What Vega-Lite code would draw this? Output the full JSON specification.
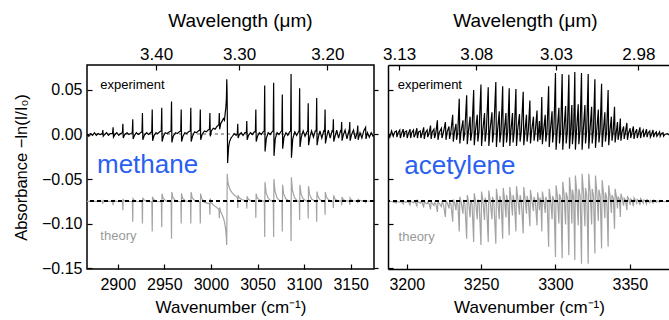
{
  "$schema": "https://vega.github.io/schema/vega-lite/v6.json",
  "background": "white",
  "padding": {"left": 12, "top": 10, "right": 0, "bottom": 0},
  "spacing": 2,
  "config": {
    "font": "Liberation Sans",
    "view": {"stroke": null},
    "axis": {"labelFont": "Liberation Sans", "titleFont": "Liberation Sans", "labelColor": "#000", "titleColor": "#000", "domainColor": "#000", "domainWidth": 1.5, "tickColor": "#000", "tickWidth": 1.2, "grid": false, "labelFontSize": 16, "titleFontSize": 17, "titleFontWeight": "normal", "labelFlush": false, "labelOverlap": false}
  },
  "datasets": {
    "me": [
      {"x":2867,"y":0},{"x":2869,"y":-0.002},{"x":2871,"y":0.001},{"x":2873,"y":-0.001},{"x":2875,"y":0.002},{"x":2877,"y":-0.001},{"x":2879,"y":0.001},{"x":2881,"y":0},{"x":2883.5,"y":0.001},{"x":2884,"y":0.005},{"x":2884.4,"y":-0.002},{"x":2886,"y":0},{"x":2888,"y":0.002},{"x":2890,"y":-0.001},{"x":2892,"y":0.001},{"x":2894.4,"y":0.001},{"x":2895,"y":0.008},{"x":2895.4,"y":-0.003},{"x":2897,"y":0},{"x":2899,"y":0.002},{"x":2901,"y":-0.001},{"x":2903,"y":0.001},{"x":2905,"y":0.002},{"x":2905.5,"y":0.012},{"x":2905.9,"y":-0.004},{"x":2907.5,"y":0},{"x":2910,"y":0.002},{"x":2912,"y":0},{"x":2914,"y":0.001},{"x":2915.6,"y":0.002},{"x":2916.1,"y":0.017},{"x":2916.5,"y":-0.005},{"x":2918,"y":-0.001},{"x":2920,"y":0.002},{"x":2922,"y":0},{"x":2924.5,"y":0.002},{"x":2926,"y":0.003},{"x":2926.5,"y":0.024},{"x":2926.9,"y":-0.006},{"x":2928.5,"y":-0.001},{"x":2931,"y":0.002},{"x":2933,"y":0},{"x":2935,"y":0.002},{"x":2936.5,"y":0.003},{"x":2937,"y":0.028},{"x":2937.4,"y":-0.007},{"x":2939,"y":-0.001},{"x":2941,"y":0.002},{"x":2943,"y":0.001},{"x":2945,"y":0.003},{"x":2946.7,"y":0.004},{"x":2947.2,"y":0.03},{"x":2947.6,"y":-0.008},{"x":2949,"y":-0.002},{"x":2951,"y":0.002},{"x":2953,"y":0.001},{"x":2955.5,"y":0.003},{"x":2957.2,"y":0.004},{"x":2957.7,"y":0.037},{"x":2958.1,"y":-0.009},{"x":2959.5,"y":-0.002},{"x":2962,"y":0.002},{"x":2964,"y":0.001},{"x":2966,"y":0.003},{"x":2967.6,"y":0.004},{"x":2968.1,"y":0.028},{"x":2968.5,"y":-0.008},{"x":2970,"y":-0.002},{"x":2972,"y":0.002},{"x":2974,"y":0.001},{"x":2976,"y":0.003},{"x":2977.9,"y":0.004},{"x":2978.4,"y":0.03},{"x":2978.8,"y":-0.008},{"x":2980.2,"y":-0.002},{"x":2982.5,"y":0.003},{"x":2984.5,"y":0.002},{"x":2986.5,"y":0.004},{"x":2988.1,"y":0.005},{"x":2988.6,"y":0.028},{"x":2989,"y":-0.006},{"x":2990.5,"y":0},{"x":2993,"y":0.004},{"x":2995,"y":0.003},{"x":2997,"y":0.005},{"x":2998.4,"y":0.006},{"x":2998.9,"y":0.024},{"x":2999.3,"y":-0.002},{"x":3000.5,"y":0.004},{"x":3002.5,"y":0.007},{"x":3004.5,"y":0.006},{"x":3006.5,"y":0.009},{"x":3008.5,"y":0.011},{"x":3009,"y":0.024},{"x":3009.4,"y":0.006},{"x":3010.5,"y":0.012},{"x":3012,"y":0.015},{"x":3013.5,"y":0.018},{"x":3014.5,"y":0.016},{"x":3015.3,"y":0.024},{"x":3016,"y":0.03},{"x":3016.6,"y":0.04},{"x":3017,"y":0.062},{"x":3017.3,"y":0.05},{"x":3017.6,"y":0.02},{"x":3017.9,"y":-0.032},{"x":3018.3,"y":-0.025},{"x":3019,"y":-0.014},{"x":3020,"y":-0.008},{"x":3021.5,"y":-0.004},{"x":3023,"y":-0.002},{"x":3025,"y":0.001},{"x":3027,"y":-0.001},{"x":3028.3,"y":0.001},{"x":3028.8,"y":0.012},{"x":3029.2,"y":-0.004},{"x":3030.5,"y":0},{"x":3032.5,"y":0.002},{"x":3034.5,"y":-0.001},{"x":3036.5,"y":0.002},{"x":3038,"y":0.002},{"x":3038.5,"y":0.015},{"x":3038.9,"y":-0.006},{"x":3040.3,"y":-0.001},{"x":3042.5,"y":0.002},{"x":3044.5,"y":0},{"x":3046.5,"y":0.003},{"x":3047.7,"y":0.003},{"x":3048.2,"y":0.028},{"x":3048.6,"y":-0.008},{"x":3050,"y":-0.002},{"x":3052,"y":0.002},{"x":3054,"y":0},{"x":3056,"y":0.003},{"x":3057.2,"y":0.004},{"x":3057.7,"y":0.055},{"x":3058.1,"y":-0.019},{"x":3059.5,"y":-0.004},{"x":3061.5,"y":0.002},{"x":3063.5,"y":0},{"x":3065.5,"y":0.003},{"x":3066.8,"y":0.004},{"x":3067.3,"y":0.058},{"x":3067.7,"y":-0.024},{"x":3069,"y":-0.005},{"x":3071,"y":0.002},{"x":3073,"y":0},{"x":3075,"y":0.003},{"x":3076.1,"y":0.004},{"x":3076.6,"y":0.045},{"x":3077,"y":-0.016},{"x":3078.4,"y":-0.003},{"x":3080.5,"y":0.002},{"x":3082.5,"y":-0.001},{"x":3084.5,"y":0.003},{"x":3085.5,"y":0.004},{"x":3086,"y":0.068},{"x":3086.4,"y":-0.026},{"x":3087.8,"y":-0.005},{"x":3090,"y":0.003},{"x":3092,"y":-0.001},{"x":3094,"y":0.003},{"x":3094.7,"y":0.004},{"x":3095.2,"y":0.052},{"x":3095.6,"y":-0.014},{"x":3097,"y":-0.003},{"x":3099,"y":0.004},{"x":3101,"y":-0.002},{"x":3103,"y":0.003},{"x":3103.9,"y":0.004},{"x":3104.4,"y":0.035},{"x":3104.8,"y":-0.012},{"x":3106.2,"y":-0.003},{"x":3108,"y":0.004},{"x":3110,"y":-0.003},{"x":3112,"y":0.004},{"x":3113,"y":0.004},{"x":3113.5,"y":0.041},{"x":3113.9,"y":-0.012},{"x":3115.3,"y":-0.003},{"x":3117,"y":0.004},{"x":3119,"y":-0.004},{"x":3121,"y":0.004},{"x":3122,"y":0.003},{"x":3122.5,"y":0.028},{"x":3122.9,"y":-0.01},{"x":3124.3,"y":-0.002},{"x":3126,"y":0.005},{"x":3128,"y":-0.004},{"x":3130,"y":0.004},{"x":3130.9,"y":0.003},{"x":3131.4,"y":0.017},{"x":3131.8,"y":-0.008},{"x":3133.2,"y":-0.002},{"x":3135,"y":0.005},{"x":3137,"y":-0.004},{"x":3139,"y":0.004},{"x":3139.8,"y":0.003},{"x":3140.3,"y":0.014},{"x":3140.7,"y":-0.007},{"x":3142,"y":-0.001},{"x":3144,"y":0.005},{"x":3146,"y":-0.005},{"x":3148,"y":0.004},{"x":3148.5,"y":0.003},{"x":3149,"y":0.014},{"x":3149.4,"y":-0.007},{"x":3151,"y":0},{"x":3153,"y":0.005},{"x":3155,"y":-0.005},{"x":3157,"y":0.003},{"x":3157.6,"y":0.01},{"x":3158,"y":-0.006},{"x":3160,"y":0.002},{"x":3162,"y":-0.004},{"x":3164,"y":0.004},{"x":3166,"y":0.008},{"x":3166.4,"y":-0.005},{"x":3168,"y":0.002},{"x":3170,"y":-0.003},{"x":3172,"y":0.002},{"x":3174,"y":-0.002},{"x":3175,"y":0}
    ],
    "mt": [
      {"x":2867,"y":-0.075},{"x":2880,"y":-0.075},{"x":2883.6,"y":-0.075},{"x":2884,"y":-0.078},{"x":2884.3,"y":-0.074},{"x":2885.5,"y":-0.0746},{"x":2888,"y":-0.075},{"x":2894.6,"y":-0.075},{"x":2895,"y":-0.0795},{"x":2895.3,"y":-0.074},{"x":2896.5,"y":-0.0746},{"x":2899,"y":-0.075},{"x":2905.1,"y":-0.0752},{"x":2905.5,"y":-0.085},{"x":2905.8,"y":-0.073},{"x":2907,"y":-0.0742},{"x":2910,"y":-0.075},{"x":2915.7,"y":-0.0752},{"x":2916.1,"y":-0.098},{"x":2916.4,"y":-0.072},{"x":2917.6,"y":-0.0738},{"x":2920.5,"y":-0.075},{"x":2926.1,"y":-0.0755},{"x":2926.5,"y":-0.1},{"x":2926.8,"y":-0.071},{"x":2928,"y":-0.0734},{"x":2931,"y":-0.075},{"x":2936.6,"y":-0.0755},{"x":2937,"y":-0.109},{"x":2937.3,"y":-0.07},{"x":2938.5,"y":-0.073},{"x":2941.5,"y":-0.075},{"x":2946.8,"y":-0.0755},{"x":2947.2,"y":-0.104},{"x":2947.5,"y":-0.0665},{"x":2948.7,"y":-0.0716},{"x":2952,"y":-0.0748},{"x":2957.3,"y":-0.0755},{"x":2957.7,"y":-0.117},{"x":2958,"y":-0.0646},{"x":2959.2,"y":-0.071},{"x":2962.5,"y":-0.0748},{"x":2967.7,"y":-0.0755},{"x":2968.1,"y":-0.1},{"x":2968.4,"y":-0.066},{"x":2969.6,"y":-0.0715},{"x":2973,"y":-0.0748},{"x":2978,"y":-0.0755},{"x":2978.4,"y":-0.1},{"x":2978.7,"y":-0.0646},{"x":2979.9,"y":-0.071},{"x":2983,"y":-0.0748},{"x":2988.2,"y":-0.0758},{"x":2988.6,"y":-0.1},{"x":2988.9,"y":-0.0665},{"x":2990.1,"y":-0.0716},{"x":2993,"y":-0.0762},{"x":2996,"y":-0.077},{"x":2998.5,"y":-0.078},{"x":2998.9,"y":-0.09},{"x":2999.2,"y":-0.072},{"x":3000.4,"y":-0.0765},{"x":3002.5,"y":-0.079},{"x":3005,"y":-0.081},{"x":3007.5,"y":-0.083},{"x":3008.7,"y":-0.084},{"x":3009,"y":-0.094},{"x":3009.3,"y":-0.082},{"x":3010.5,"y":-0.087},{"x":3012,"y":-0.09},{"x":3013.5,"y":-0.094},{"x":3014.5,"y":-0.098},{"x":3015.5,"y":-0.104},{"x":3016.3,"y":-0.112},{"x":3016.9,"y":-0.124},{"x":3017.2,"y":-0.09},{"x":3017.5,"y":-0.044},{"x":3018,"y":-0.052},{"x":3019,"y":-0.057},{"x":3020.5,"y":-0.062},{"x":3022.5,"y":-0.065},{"x":3025,"y":-0.068},{"x":3027.5,"y":-0.07},{"x":3028.5,"y":-0.071},{"x":3028.8,"y":-0.0825},{"x":3029.1,"y":-0.0683},{"x":3030.3,"y":-0.071},{"x":3033,"y":-0.073},{"x":3038.1,"y":-0.0745},{"x":3038.5,"y":-0.0832},{"x":3038.8,"y":-0.0694},{"x":3040,"y":-0.0725},{"x":3043,"y":-0.0745},{"x":3047.8,"y":-0.075},{"x":3048.2,"y":-0.0936},{"x":3048.5,"y":-0.0665},{"x":3049.7,"y":-0.0712},{"x":3052.5,"y":-0.0737},{"x":3057.3,"y":-0.075},{"x":3057.7,"y":-0.115},{"x":3058,"y":-0.0535},{"x":3059.2,"y":-0.0653},{"x":3061.5,"y":-0.0718},{"x":3064.5,"y":-0.0745},{"x":3066.9,"y":-0.075},{"x":3067.3,"y":-0.115},{"x":3067.6,"y":-0.05},{"x":3068.8,"y":-0.0638},{"x":3071,"y":-0.0712},{"x":3074,"y":-0.0745},{"x":3076.2,"y":-0.075},{"x":3076.6,"y":-0.109},{"x":3076.9,"y":-0.0565},{"x":3078.1,"y":-0.0667},{"x":3080.3,"y":-0.0722},{"x":3083.5,"y":-0.0745},{"x":3085.6,"y":-0.075},{"x":3086,"y":-0.1197},{"x":3086.3,"y":-0.048},{"x":3087.5,"y":-0.0629},{"x":3089.7,"y":-0.071},{"x":3092.5,"y":-0.0745},{"x":3094.8,"y":-0.075},{"x":3095.2,"y":-0.096},{"x":3095.5,"y":-0.0565},{"x":3096.7,"y":-0.0667},{"x":3098.9,"y":-0.0722},{"x":3102,"y":-0.0745},{"x":3104,"y":-0.075},{"x":3104.4,"y":-0.0944},{"x":3104.7,"y":-0.058},{"x":3105.9,"y":-0.0673},{"x":3108.1,"y":-0.0725},{"x":3111,"y":-0.0745},{"x":3113.1,"y":-0.075},{"x":3113.5,"y":-0.098},{"x":3113.8,"y":-0.064},{"x":3115,"y":-0.07},{"x":3117.2,"y":-0.0734},{"x":3120,"y":-0.0748},{"x":3122.1,"y":-0.075},{"x":3122.5,"y":-0.09},{"x":3122.8,"y":-0.0646},{"x":3124,"y":-0.0703},{"x":3126.2,"y":-0.0734},{"x":3129,"y":-0.0748},{"x":3131,"y":-0.075},{"x":3131.4,"y":-0.0825},{"x":3131.7,"y":-0.0683},{"x":3132.9,"y":-0.072},{"x":3135.1,"y":-0.074},{"x":3139.9,"y":-0.075},{"x":3140.3,"y":-0.0795},{"x":3140.6,"y":-0.0702},{"x":3141.8,"y":-0.0728},{"x":3144,"y":-0.0743},{"x":3148.6,"y":-0.075},{"x":3149,"y":-0.0788},{"x":3149.3,"y":-0.0713},{"x":3150.5,"y":-0.0733},{"x":3152.7,"y":-0.0744},{"x":3157.2,"y":-0.075},{"x":3157.6,"y":-0.077},{"x":3157.9,"y":-0.073},{"x":3159.1,"y":-0.074},{"x":3165.6,"y":-0.075},{"x":3166,"y":-0.076},{"x":3166.3,"y":-0.074},{"x":3167.5,"y":-0.0747},{"x":3175,"y":-0.075}
    ],
    "ae": [
      {"x":3187.5,"y":0.001},{"x":3188.6,"y":-0.003},{"x":3189.8,"y":0.004},{"x":3190.9,"y":-0.002},{"x":3192,"y":0.003},
      {"x":3193,"y":0.004},{"x":3193.4,"y":-0.003},{"x":3194.2,"y":0.002},{"x":3195.3,"y":0.005},{"x":3195.7,"y":-0.004},{"x":3196.5,"y":0.001},
      {"x":3197.6,"y":0.006},{"x":3198,"y":-0.003},{"x":3198.8,"y":0.003},{"x":3199.9,"y":0.004},{"x":3200.3,"y":-0.004},{"x":3201.1,"y":0.001},
      {"x":3202.2,"y":0.006},{"x":3202.6,"y":-0.004},{"x":3203.4,"y":0.002},{"x":3204.5,"y":0.005},{"x":3204.9,"y":-0.003},{"x":3205.7,"y":0},
      {"x":3206.8,"y":0.007},{"x":3207.2,"y":-0.004},{"x":3208,"y":0.003},{"x":3209.1,"y":0.004},{"x":3209.5,"y":-0.004},{"x":3210.3,"y":0.001},
      {"x":3211.4,"y":0.008},{"x":3211.8,"y":-0.005},{"x":3212.6,"y":0.002},{"x":3213.7,"y":0.005},{"x":3214.1,"y":-0.003},{"x":3214.9,"y":0.001},
      {"x":3216,"y":0.01},{"x":3216.4,"y":-0.005},{"x":3217.2,"y":0.003},{"x":3218.3,"y":0.006},{"x":3218.7,"y":-0.004},{"x":3219.5,"y":0.001},
      {"x":3220.6,"y":0.016},{"x":3221,"y":-0.006},{"x":3221.8,"y":0.002},{"x":3223.3,"y":0.007},{"x":3223.7,"y":-0.004},{"x":3224.5,"y":0.001},
      {"x":3226,"y":0.014},{"x":3226.4,"y":-0.006},{"x":3227.2,"y":0.003},{"x":3228.4,"y":0.009},{"x":3228.8,"y":-0.005},{"x":3229.6,"y":0.002},
      {"x":3230.9,"y":0.022},{"x":3231.3,"y":-0.008},{"x":3232.1,"y":0.003},{"x":3233.1,"y":0.012},{"x":3233.5,"y":-0.006},{"x":3234.3,"y":0.002},
      {"x":3235.3,"y":0.04},{"x":3235.7,"y":-0.01},{"x":3236.5,"y":0.003},{"x":3237.8,"y":0.016},{"x":3238.2,"y":-0.007},{"x":3239,"y":0.002},
      {"x":3240.3,"y":0.044},{"x":3240.7,"y":-0.011},{"x":3241.5,"y":0.004},{"x":3242.6,"y":0.02},{"x":3243,"y":-0.007},{"x":3243.8,"y":0.002},
      {"x":3245,"y":0.05},{"x":3245.4,"y":-0.012},{"x":3246.2,"y":0.004},{"x":3247.4,"y":0.022},{"x":3247.8,"y":-0.008},{"x":3248.6,"y":0.003},
      {"x":3249.9,"y":0.056},{"x":3250.3,"y":-0.013},{"x":3251.1,"y":0.004},{"x":3252.3,"y":0.024},{"x":3252.7,"y":-0.008},{"x":3253.5,"y":0.003},
      {"x":3254.8,"y":0.053},{"x":3255.2,"y":-0.013},{"x":3256,"y":0.005},{"x":3257.3,"y":0.025},{"x":3257.7,"y":-0.009},{"x":3258.5,"y":0.003},
      {"x":3259.9,"y":0.059},{"x":3260.3,"y":-0.014},{"x":3261.1,"y":0.005},{"x":3262.2,"y":0.026},{"x":3262.6,"y":-0.009},{"x":3263.4,"y":0.003},
      {"x":3264.5,"y":0.054},{"x":3264.9,"y":-0.014},{"x":3265.7,"y":0.005},{"x":3266.7,"y":0.024},{"x":3267.1,"y":-0.009},{"x":3267.9,"y":0.003},
      {"x":3268.9,"y":0.052},{"x":3269.3,"y":-0.013},{"x":3270.1,"y":0.005},{"x":3271.1,"y":0.024},{"x":3271.5,"y":-0.009},{"x":3272.3,"y":0.003},
      {"x":3273.4,"y":0.051},{"x":3273.8,"y":-0.013},{"x":3274.6,"y":0.005},{"x":3275.8,"y":0.023},{"x":3276.2,"y":-0.008},{"x":3277,"y":0.003},
      {"x":3278.3,"y":0.048},{"x":3278.7,"y":-0.012},{"x":3279.5,"y":0.004},{"x":3280.5,"y":0.022},{"x":3280.9,"y":-0.008},{"x":3281.7,"y":0.003},
      {"x":3282.8,"y":0.038},{"x":3283.2,"y":-0.01},{"x":3284,"y":0.004},{"x":3285.2,"y":0.02},{"x":3285.6,"y":-0.007},{"x":3286.4,"y":0.003},
      {"x":3287.6,"y":0.027},{"x":3288,"y":-0.008},{"x":3288.6,"y":0.003},{"x":3289.2,"y":0.015},{"x":3289.6,"y":-0.006},{"x":3290.2,"y":0.003},
      {"x":3290.8,"y":0.042},{"x":3291.2,"y":-0.011},{"x":3292,"y":0.004},{"x":3293.1,"y":0.022},{"x":3293.5,"y":-0.008},{"x":3294.3,"y":0.003},
      {"x":3295.4,"y":0.054},{"x":3295.8,"y":-0.014},{"x":3296.6,"y":0.005},{"x":3297.7,"y":0.026},{"x":3298.1,"y":-0.009},{"x":3298.9,"y":0.004},
      {"x":3300,"y":0.069},{"x":3300.4,"y":-0.017},{"x":3301.2,"y":0.005},{"x":3302.3,"y":0.03},{"x":3302.7,"y":-0.01},{"x":3303.5,"y":0.004},
      {"x":3304.5,"y":0.068},{"x":3304.9,"y":-0.017},{"x":3305.7,"y":0.005},{"x":3306.8,"y":0.032},{"x":3307.2,"y":-0.01},{"x":3308,"y":0.004},
      {"x":3309,"y":0.067},{"x":3309.4,"y":-0.016},{"x":3310.2,"y":0.005},{"x":3311,"y":0.033},{"x":3311.4,"y":-0.011},{"x":3312.2,"y":0.004},
      {"x":3313,"y":0.07},{"x":3313.4,"y":-0.017},{"x":3314.2,"y":0.005},{"x":3315.3,"y":0.034},{"x":3315.7,"y":-0.011},{"x":3316.5,"y":0.004},
      {"x":3317.5,"y":0.069},{"x":3317.9,"y":-0.017},{"x":3318.7,"y":0.005},{"x":3319.8,"y":0.033},{"x":3320.2,"y":-0.01},{"x":3321,"y":0.004},
      {"x":3322,"y":0.068},{"x":3322.4,"y":-0.016},{"x":3323.2,"y":0.005},{"x":3324.3,"y":0.031},{"x":3324.7,"y":-0.01},{"x":3325.5,"y":0.004},
      {"x":3326.5,"y":0.062},{"x":3326.9,"y":-0.015},{"x":3327.7,"y":0.004},{"x":3328.8,"y":0.028},{"x":3329.2,"y":-0.009},{"x":3330,"y":0.003},
      {"x":3331,"y":0.057},{"x":3331.4,"y":-0.014},{"x":3332.2,"y":0.004},{"x":3333.2,"y":0.025},{"x":3333.6,"y":-0.008},{"x":3334.4,"y":0.003},
      {"x":3335.4,"y":0.05},{"x":3335.8,"y":-0.012},{"x":3336.6,"y":0.004},{"x":3337.6,"y":0.02},{"x":3338,"y":-0.007},{"x":3338.8,"y":0.003},
      {"x":3339.7,"y":0.031},{"x":3340.1,"y":-0.009},{"x":3340.9,"y":0.003},{"x":3341.7,"y":0.014},{"x":3342.1,"y":-0.006},{"x":3342.9,"y":0.002},
      {"x":3343.6,"y":0.018},{"x":3344,"y":-0.007},{"x":3344.8,"y":0.003},{"x":3345.8,"y":0.009},{"x":3346.2,"y":-0.005},{"x":3347,"y":0.002},
      {"x":3348,"y":0.013},{"x":3348.4,"y":-0.006},{"x":3349.2,"y":0.002},{"x":3350.2,"y":0.007},{"x":3350.6,"y":-0.004},{"x":3351.4,"y":0.002},
      {"x":3352.4,"y":0.009},{"x":3352.8,"y":-0.005},{"x":3353.6,"y":0.002},{"x":3354.6,"y":0.006},{"x":3355,"y":-0.004},{"x":3355.8,"y":0.001},
      {"x":3356.8,"y":0.008},{"x":3357.2,"y":-0.004},{"x":3358,"y":0.002},{"x":3359,"y":0.005},{"x":3359.4,"y":-0.003},{"x":3360.2,"y":0.001},
      {"x":3361.2,"y":0.006},{"x":3361.6,"y":-0.003},{"x":3362.4,"y":0.002},{"x":3363.4,"y":0.004},{"x":3363.8,"y":-0.003},{"x":3364.6,"y":0},
      {"x":3365.6,"y":0.005},{"x":3366,"y":-0.003},{"x":3366.8,"y":0.001},{"x":3367.8,"y":0.003},{"x":3368.2,"y":-0.002},{"x":3369,"y":0},
      {"x":3370,"y":0.003},{"x":3370.4,"y":-0.002},{"x":3371.2,"y":0.001},{"x":3372.3,"y":0.002},{"x":3372.7,"y":-0.002},{"x":3373.5,"y":0},{"x":3375,"y":0.001},{"x":3377,"y":-0.001}
    ],
    "at": [
      {"x":3187.5,"y":-0.075},{"x":3190,"y":-0.0752},
      {"x":3193,"y":-0.077},{"x":3193.4,"y":-0.0752},{"x":3194.3,"y":-0.0755},{"x":3195.3,"y":-0.0758},{"x":3195.7,"y":-0.0752},{"x":3196.6,"y":-0.0755},
      {"x":3197.6,"y":-0.078},{"x":3198,"y":-0.0752},{"x":3198.9,"y":-0.0756},{"x":3199.9,"y":-0.0762},{"x":3200.3,"y":-0.0752},{"x":3201.2,"y":-0.0757},
      {"x":3202.2,"y":-0.079},{"x":3202.6,"y":-0.0745},{"x":3203.5,"y":-0.0758},{"x":3204.5,"y":-0.0766},{"x":3204.9,"y":-0.0753},{"x":3205.8,"y":-0.076},
      {"x":3206.8,"y":-0.08},{"x":3207.2,"y":-0.074},{"x":3208.1,"y":-0.0762},{"x":3209.1,"y":-0.077},{"x":3209.5,"y":-0.0755},{"x":3210.4,"y":-0.0765},
      {"x":3211.4,"y":-0.082},{"x":3211.8,"y":-0.075},{"x":3212.7,"y":-0.0772},{"x":3213.7,"y":-0.0778},{"x":3214.1,"y":-0.076},{"x":3215,"y":-0.0775},
      {"x":3216,"y":-0.084},{"x":3216.4,"y":-0.0755},{"x":3217.3,"y":-0.0775},{"x":3218.3,"y":-0.0795},{"x":3218.7,"y":-0.0765},{"x":3219.6,"y":-0.078},
      {"x":3220.6,"y":-0.087},{"x":3221,"y":-0.075},{"x":3221.9,"y":-0.0775},{"x":3223.3,"y":-0.081},{"x":3223.7,"y":-0.076},{"x":3224.6,"y":-0.078},
      {"x":3226,"y":-0.0926},{"x":3226.4,"y":-0.074},{"x":3227.3,"y":-0.077},{"x":3228.4,"y":-0.083},{"x":3228.8,"y":-0.076},{"x":3229.7,"y":-0.078},
      {"x":3230.9,"y":-0.098},{"x":3231.3,"y":-0.073},{"x":3232.2,"y":-0.0765},{"x":3233.1,"y":-0.085},{"x":3233.5,"y":-0.0755},{"x":3234.4,"y":-0.078},
      {"x":3235.3,"y":-0.109},{"x":3235.7,"y":-0.07},{"x":3236.6,"y":-0.076},{"x":3237.8,"y":-0.089},{"x":3238.2,"y":-0.075},{"x":3239.1,"y":-0.078},
      {"x":3240.3,"y":-0.117},{"x":3240.7,"y":-0.068},{"x":3241.6,"y":-0.0755},{"x":3242.6,"y":-0.093},{"x":3243,"y":-0.074},{"x":3243.9,"y":-0.078},
      {"x":3245,"y":-0.1206},{"x":3245.4,"y":-0.066},{"x":3246.3,"y":-0.075},{"x":3247.4,"y":-0.095},{"x":3247.8,"y":-0.073},{"x":3248.7,"y":-0.078},
      {"x":3249.9,"y":-0.124},{"x":3250.3,"y":-0.064},{"x":3251.2,"y":-0.0745},{"x":3252.3,"y":-0.096},{"x":3252.7,"y":-0.071},{"x":3253.6,"y":-0.0775},
      {"x":3254.8,"y":-0.1206},{"x":3255.2,"y":-0.063},{"x":3256.1,"y":-0.0745},{"x":3257.3,"y":-0.095},{"x":3257.7,"y":-0.07},{"x":3258.6,"y":-0.077},
      {"x":3259.9,"y":-0.1225},{"x":3260.3,"y":-0.061},{"x":3261.2,"y":-0.074},{"x":3262.2,"y":-0.095},{"x":3262.6,"y":-0.069},{"x":3263.5,"y":-0.077},
      {"x":3264.5,"y":-0.117},{"x":3264.9,"y":-0.06},{"x":3265.8,"y":-0.0735},{"x":3266.7,"y":-0.093},{"x":3267.1,"y":-0.068},{"x":3268,"y":-0.0765},
      {"x":3268.9,"y":-0.113},{"x":3269.3,"y":-0.059},{"x":3270.2,"y":-0.073},{"x":3271.1,"y":-0.091},{"x":3271.5,"y":-0.068},{"x":3272.4,"y":-0.076},
      {"x":3273.4,"y":-0.109},{"x":3273.8,"y":-0.058},{"x":3274.7,"y":-0.0725},{"x":3275.8,"y":-0.09},{"x":3276.2,"y":-0.068},{"x":3277.1,"y":-0.076},
      {"x":3278.3,"y":-0.111},{"x":3278.7,"y":-0.059},{"x":3279.6,"y":-0.073},{"x":3280.5,"y":-0.089},{"x":3280.9,"y":-0.069},{"x":3281.8,"y":-0.076},
      {"x":3282.8,"y":-0.103},{"x":3283.2,"y":-0.062},{"x":3284.1,"y":-0.0735},{"x":3285.2,"y":-0.086},{"x":3285.6,"y":-0.07},{"x":3286.5,"y":-0.076},
      {"x":3287.6,"y":-0.102},{"x":3288,"y":-0.065},{"x":3288.7,"y":-0.074},{"x":3289.2,"y":-0.085},{"x":3289.6,"y":-0.071},{"x":3290.2,"y":-0.0755},
      {"x":3290.8,"y":-0.109},{"x":3291.2,"y":-0.064},{"x":3292.1,"y":-0.0735},{"x":3293.1,"y":-0.088},{"x":3293.5,"y":-0.07},{"x":3294.4,"y":-0.0755},
      {"x":3295.4,"y":-0.126},{"x":3295.8,"y":-0.061},{"x":3296.7,"y":-0.072},{"x":3297.7,"y":-0.095},{"x":3298.1,"y":-0.069},{"x":3299,"y":-0.074},
      {"x":3300,"y":-0.1375},{"x":3300.4,"y":-0.057},{"x":3301.3,"y":-0.0695},{"x":3302.3,"y":-0.1},{"x":3302.7,"y":-0.067},{"x":3303.6,"y":-0.072},
      {"x":3304.5,"y":-0.139},{"x":3304.9,"y":-0.053},{"x":3305.8,"y":-0.0675},{"x":3306.8,"y":-0.101},{"x":3307.2,"y":-0.065},{"x":3308.1,"y":-0.071},
      {"x":3309,"y":-0.1355},{"x":3309.4,"y":-0.048},{"x":3310.3,"y":-0.0655},{"x":3311,"y":-0.1},{"x":3311.4,"y":-0.062},{"x":3312.2,"y":-0.07},
      {"x":3313,"y":-0.141},{"x":3313.4,"y":-0.046},{"x":3314.3,"y":-0.065},{"x":3315.3,"y":-0.102},{"x":3315.7,"y":-0.061},{"x":3316.6,"y":-0.0695},
      {"x":3317.5,"y":-0.145},{"x":3317.9,"y":-0.044},{"x":3318.8,"y":-0.064},{"x":3319.8,"y":-0.103},{"x":3320.2,"y":-0.06},{"x":3321.1,"y":-0.069},
      {"x":3322,"y":-0.145},{"x":3322.4,"y":-0.044},{"x":3323.3,"y":-0.064},{"x":3324.3,"y":-0.101},{"x":3324.7,"y":-0.061},{"x":3325.6,"y":-0.069},
      {"x":3326.5,"y":-0.1337},{"x":3326.9,"y":-0.046},{"x":3327.8,"y":-0.065},{"x":3328.8,"y":-0.097},{"x":3329.2,"y":-0.062},{"x":3330.1,"y":-0.0695},
      {"x":3331,"y":-0.128},{"x":3331.4,"y":-0.0515},{"x":3332.3,"y":-0.067},{"x":3333.2,"y":-0.094},{"x":3333.6,"y":-0.065},{"x":3334.5,"y":-0.071},
      {"x":3335.4,"y":-0.126},{"x":3335.8,"y":-0.057},{"x":3336.7,"y":-0.069},{"x":3337.6,"y":-0.088},{"x":3338,"y":-0.068},{"x":3338.9,"y":-0.072},
      {"x":3339.7,"y":-0.1057},{"x":3340.1,"y":-0.061},{"x":3341,"y":-0.07},{"x":3341.7,"y":-0.083},{"x":3342.1,"y":-0.0695},{"x":3343,"y":-0.0728},
      {"x":3343.6,"y":-0.0926},{"x":3344,"y":-0.0665},{"x":3344.9,"y":-0.072},{"x":3345.8,"y":-0.08},{"x":3346.2,"y":-0.0715},{"x":3347.1,"y":-0.0737},
      {"x":3348,"y":-0.085},{"x":3348.4,"y":-0.0694},{"x":3349.3,"y":-0.073},{"x":3350.2,"y":-0.079},{"x":3350.6,"y":-0.0725},{"x":3351.5,"y":-0.074},
      {"x":3352.4,"y":-0.0806},{"x":3352.8,"y":-0.071},{"x":3353.7,"y":-0.0735},{"x":3354.6,"y":-0.077},{"x":3355,"y":-0.073},{"x":3355.9,"y":-0.0745},
      {"x":3356.8,"y":-0.079},{"x":3357.2,"y":-0.072},{"x":3358.1,"y":-0.074},{"x":3359,"y":-0.077},{"x":3359.4,"y":-0.0735},{"x":3360.3,"y":-0.0745},
      {"x":3361.2,"y":-0.078},{"x":3361.6,"y":-0.073},{"x":3362.5,"y":-0.0745},{"x":3363.4,"y":-0.0765},{"x":3363.8,"y":-0.074},{"x":3364.7,"y":-0.075},
      {"x":3365.6,"y":-0.077},{"x":3366,"y":-0.0735},{"x":3366.9,"y":-0.0745},{"x":3367.8,"y":-0.076},{"x":3368.2,"y":-0.0745},{"x":3369.1,"y":-0.075},
      {"x":3370,"y":-0.076},{"x":3370.4,"y":-0.074},{"x":3371.3,"y":-0.075},{"x":3373,"y":-0.0755},{"x":3375,"y":-0.075},{"x":3377,"y":-0.075}
    ]
  },
  "hconcat": [
    {
      "width": 287,
      "height": 204,
      "view": {"stroke": "#000", "strokeWidth": 1.5},
      "resolve": {"axis": {"x": "independent", "y": "independent"}},
      "layer": [
        {
          "data": {"name": "me"},
          "mark": {"type": "rule", "color": "#aaaaaa", "strokeDash": [3, 3], "strokeWidth": 1},
          "encoding": {"y": {"datum": 0, "type": "quantitative", "axis": null, "scale": {"domain": [-0.151, 0.078], "nice": false, "zero": false}}}
        },
        {
          "data": {"name": "me"},
          "mark": {"type": "line", "color": "#000", "strokeWidth": 1.2, "clip": true},
          "encoding": {
            "x": {"field": "x", "type": "quantitative", "scale": {"domain": [2867, 3175], "nice": false, "zero": false},
                  "axis": {"orient": "bottom", "values": [2900, 2950, 3000, 3050, 3100, 3150], "format": "d", "title": "Wavenumber (cm⁻¹)", "domain": false, "tickSize": -5, "labelPadding": 12, "titlePadding": 7}},
            "y": {"field": "y", "type": "quantitative", "scale": {"domain": [-0.151, 0.078], "nice": false, "zero": false},
                  "axis": {"orient": "left", "values": [-0.15, -0.1, -0.05, 0, 0.05], "format": ".2f", "title": "Absorbance −ln(I/I₀)", "titleFontSize": 16.5, "domain": false, "tickSize": -5, "labelPadding": 10, "titlePadding": 12}}
          }
        },
        {
          "data": {"name": "mt"},
          "mark": {"type": "line", "color": "#a3a3a3", "strokeWidth": 1.2, "clip": true},
          "encoding": {
            "x": {"field": "x", "type": "quantitative",
                  "axis": {"orient": "top", "values": [2941.1765, 3030.303, 3125], "labelExpr": "format(10000/datum.value, '.2f')", "title": "Wavelength (μm)", "titleFontSize": 19, "titleX": 153, "labelFontSize": 17, "domain": false, "tickSize": -5, "labelPadding": 7, "titlePadding": 15}},
            "y": {"field": "y", "type": "quantitative",
                  "axis": {"orient": "right", "values": [-0.15, -0.1, -0.05, 0, 0.05], "labels": false, "title": null, "domain": false, "tickSize": 4}}
          }
        },
        {
          "data": {"name": "mt"},
          "mark": {"type": "rule", "color": "#000", "strokeDash": [4, 3], "strokeWidth": 1.2},
          "encoding": {"y": {"datum": -0.075, "type": "quantitative", "axis": null}}
        },
        {
          "data": {"values": [{"t": "experiment", "x": 2881.3, "y": 0.051, "k": "e"}, {"t": "theory", "x": 2881.3, "y": -0.118, "k": "t"}]},
          "mark": {"type": "text", "align": "left", "baseline": "alphabetic", "fontSize": 13},
          "encoding": {
            "x": {"field": "x", "type": "quantitative", "axis": null},
            "y": {"field": "y", "type": "quantitative", "axis": null},
            "text": {"field": "t"},
            "color": {"field": "k", "type": "nominal", "scale": {"domain": ["e", "t"], "range": ["#000000", "#999999"]}, "legend": null}
          }
        },
        {
          "data": {"values": [{"t": "methane", "x": 2877.7, "y": -0.0435}]},
          "mark": {"type": "text", "align": "left", "baseline": "alphabetic", "fontSize": 26, "color": "#2b5ff0"},
          "encoding": {
            "x": {"field": "x", "type": "quantitative", "axis": null},
            "y": {"field": "y", "type": "quantitative", "axis": null},
            "text": {"field": "t"}
          }
        }
      ]
    },
    {
      "width": 282,
      "height": 204,
      "resolve": {"axis": {"x": "independent", "y": "independent"}},
      "layer": [
        {
          "data": {"name": "ae"},
          "mark": {"type": "rule", "color": "#aaaaaa", "strokeDash": [3, 3], "strokeWidth": 1},
          "encoding": {"y": {"datum": 0, "type": "quantitative", "axis": null, "scale": {"domain": [-0.151, 0.078], "nice": false, "zero": false}}}
        },
        {
          "data": {"name": "ae"},
          "mark": {"type": "line", "color": "#000", "strokeWidth": 1.2, "clip": true},
          "encoding": {
            "x": {"field": "x", "type": "quantitative", "scale": {"domain": [3187.4, 3377], "nice": false, "zero": false},
                  "axis": {"orient": "bottom", "values": [3200, 3250, 3300, 3350], "format": "d", "title": "Wavenumber (cm⁻¹)", "domain": true, "tickSize": -5, "labelPadding": 12, "titlePadding": 7}},
            "y": {"field": "y", "type": "quantitative", "scale": {"domain": [-0.151, 0.078], "nice": false, "zero": false},
                  "axis": {"orient": "left", "values": [-0.15, -0.1, -0.05, 0, 0.05], "labels": false, "title": null, "domain": true, "tickSize": -5}}
          }
        },
        {
          "data": {"name": "at"},
          "mark": {"type": "line", "color": "#a3a3a3", "strokeWidth": 1.2, "clip": true},
          "encoding": {
            "x": {"field": "x", "type": "quantitative",
                  "axis": {"orient": "top", "values": [3194.888, 3246.753, 3300.33, 3355.705], "labelExpr": "format(10000/datum.value, '.2f')", "title": "Wavelength (μm)", "titleFontSize": 19, "titleX": 137, "labelFontSize": 17, "domain": true, "tickSize": -5, "labelPadding": 7, "titlePadding": 15}},
            "y": {"field": "y", "type": "quantitative", "axis": null}
          }
        },
        {
          "data": {"name": "at"},
          "mark": {"type": "rule", "color": "#000", "strokeDash": [4, 3], "strokeWidth": 1.2},
          "encoding": {"y": {"datum": -0.075, "type": "quantitative", "axis": null}}
        },
        {
          "data": {"values": [{"t": "experiment", "x": 3193.9, "y": 0.051, "k": "e"}, {"t": "theory", "x": 3194.5, "y": -0.12, "k": "t"}]},
          "mark": {"type": "text", "align": "left", "baseline": "alphabetic", "fontSize": 13},
          "encoding": {
            "x": {"field": "x", "type": "quantitative", "axis": null},
            "y": {"field": "y", "type": "quantitative", "axis": null},
            "text": {"field": "t"},
            "color": {"field": "k", "type": "nominal", "scale": {"domain": ["e", "t"], "range": ["#000000", "#999999"]}, "legend": null}
          }
        },
        {
          "data": {"values": [{"t": "acetylene", "x": 3198.3, "y": -0.0445}]},
          "mark": {"type": "text", "align": "left", "baseline": "alphabetic", "fontSize": 26, "color": "#2b5ff0"},
          "encoding": {
            "x": {"field": "x", "type": "quantitative", "axis": null},
            "y": {"field": "y", "type": "quantitative", "axis": null},
            "text": {"field": "t"}
          }
        }
      ]
    }
  ]
}
